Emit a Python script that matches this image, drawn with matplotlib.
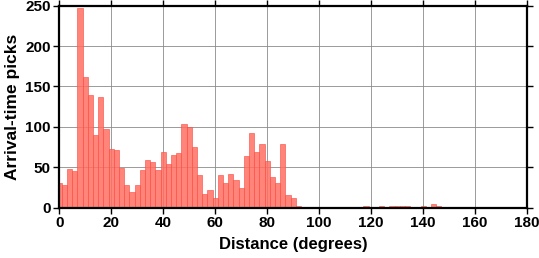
import numpy as np
import matplotlib
matplotlib.use("Agg")
import matplotlib.pyplot as plt

# centres des classes (largeur 2 degres)
centres = np.arange(0, 182, 2)

# nombre de pointes par classe
comptes = [30, 28, 48, 45, 247, 162, 139, 90, 137, 97,
           73, 71, 49, 28, 19, 28, 47, 59, 57, 47,
           69, 54, 65, 68, 104, 100, 75, 40, 17, 22,
           12, 40, 30, 42, 34, 24, 64, 93, 69, 79,
           58, 38, 30, 79, 16, 12, 2, 1, 1, 0,
           0, 0, 0, 0, 0, 0, 0, 0, 0, 2,
           0, 0, 2, 0, 2, 2, 2, 2, 1, 1,
           2, 0, 4, 2, 0, 1, 1, 0, 0, 1,
           0, 0, 0, 0, 0, 0, 0, 0, 0, 0, 0]

xticks = np.arange(0, 181, 20)
yticks = np.arange(0, 251, 50)

plt.rcParams['font.family'] = ['Liberation Sans', 'DejaVu Sans']
plt.rcParams['font.weight'] = 'bold'

fig = plt.figure(figsize=(5.39, 2.58), dpi=100)
ax = fig.add_axes([0.110, 0.195, 0.868, 0.783])

ax.bar(centres, comptes, width=2, color='#ff6f63', alpha=0.85,
       edgecolor='#ff4a40', linewidth=0.5, zorder=2)

ax.set_xlim(0, 180)
ax.set_ylim(0, 250)
ax.set_xticks(xticks)
ax.set_yticks(yticks)
ax.grid(True, color='#8a8a8a', linewidth=0.6, zorder=1)
ax.set_axisbelow(True)

for s in ax.spines.values():
    s.set_linewidth(1.6)
    s.set_zorder(3)

ax.tick_params(direction='out', length=4, width=1, labelsize=11,
               top=True, right=True, pad=2)
for lab in ax.get_xticklabels() + ax.get_yticklabels():
    lab.set_fontweight('bold')

ax.set_xlabel("Distance (degrees)", fontsize=12, fontweight='bold', labelpad=5)
ax.set_ylabel("Arrival-time picks", fontsize=12.5, fontweight='bold', labelpad=4)

fig.savefig("out.png", dpi=100)
